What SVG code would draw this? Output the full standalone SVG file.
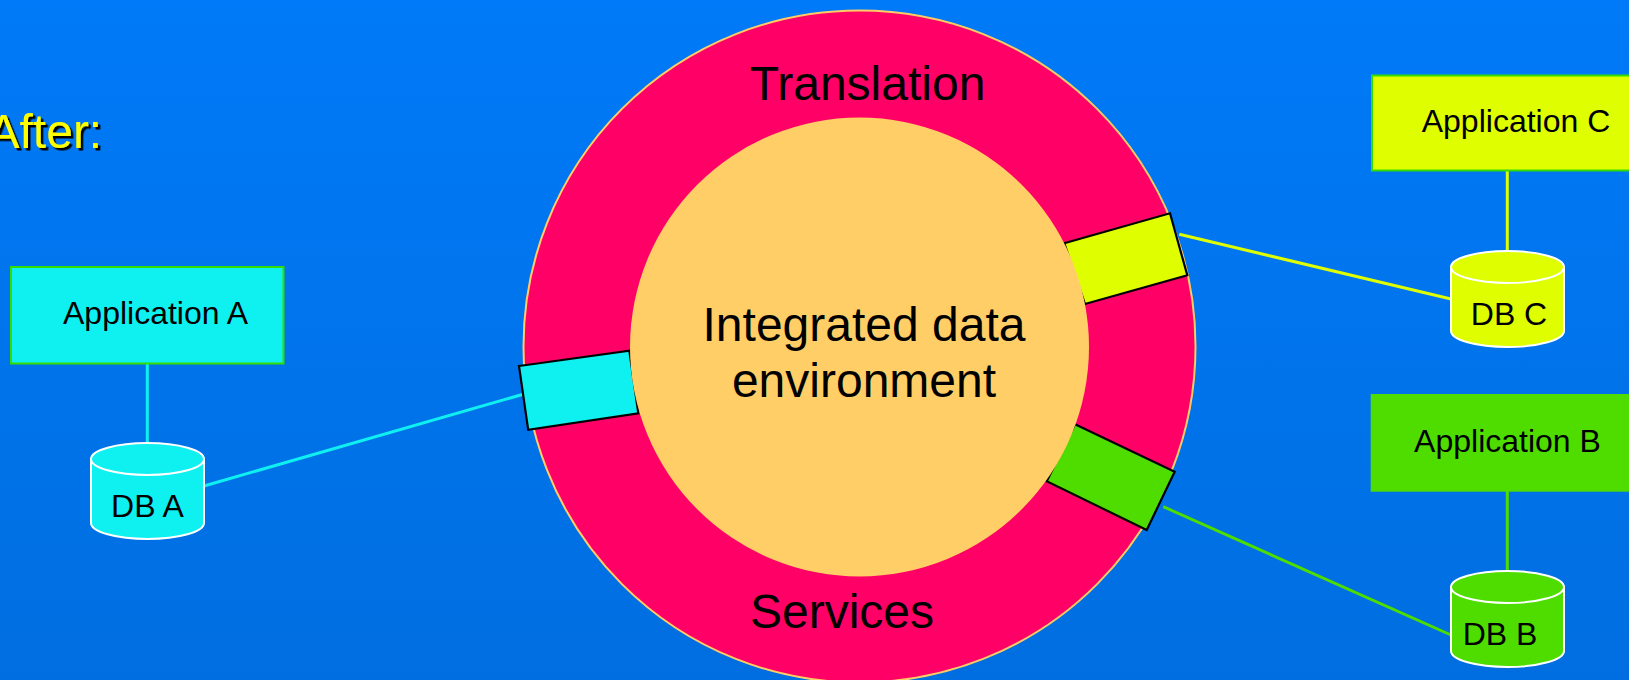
<svg xmlns="http://www.w3.org/2000/svg" width="1629" height="680" viewBox="0 0 1629 680">
<defs>
<linearGradient id="bg" x1="0" y1="0" x2="0" y2="1"><stop offset="0" stop-color="#007af8"/><stop offset="1" stop-color="#006ee0"/></linearGradient>
<filter id="shadow" x="-10%" y="-10%" width="120%" height="120%"><feDropShadow dx="2.5" dy="2.5" stdDeviation="0.3" flood-color="#000"/></filter>
</defs>
<style>
text{font-family:"Liberation Sans",Arial,sans-serif;fill:#000}
.big{font-size:48px}
.small{font-size:32px}
.port{stroke:#000;stroke-width:2.2}
.link{fill:none;stroke-width:3}
.db{stroke:#fff;stroke-width:2}
.cyan{fill:#0ff0f0}
.lime{fill:#dfff00}
.green{fill:#4fdd00}
.scyan{stroke:#0ff0f0}
.slime{stroke:#dfff00}
.sgreen{stroke:#4fdd00}
</style>
<rect width="1629" height="680" fill="url(#bg)"/>
<text id="after" x="-12.5" y="147.5" class="big" style="fill:#ffff00" filter="url(#shadow)">After:</text>

<g id="connectors">
<line class="link scyan" x1="147.3" y1="364" x2="147.3" y2="443"/>
<line class="link scyan" x1="204" y1="486" x2="524" y2="394"/>
<line class="link slime" x1="1507.3" y1="171" x2="1507.3" y2="251"/>
<line class="link slime" x1="1179.3" y1="234.3" x2="1451" y2="299"/>
<line class="link sgreen" x1="1507.3" y1="491" x2="1507.3" y2="571"/>
<line class="link sgreen" x1="1163.3" y1="506.7" x2="1451" y2="635"/>
</g>

<g id="ring"><circle cx="859.5" cy="346.5" r="336" fill="#ff0066" stroke="#ffcc66" stroke-width="2"/></g>
<g id="port-a"><polygon class="port cyan" points="519,366 629.3,350.7 638.3,413.3 528.2,429.8"/></g>
<g id="port-c"><polygon class="port lime" points="1170,213.3 1187.3,275.3 1085,304 1064.3,243.3"/></g>
<g id="port-b"><polygon class="port green" points="1075,424.3 1174.7,471.7 1146.7,530 1046.7,481.3"/></g>
<g id="core"><circle cx="859.5" cy="347" r="229.5" fill="#ffce66"/>
<text x="864" y="341" class="big" text-anchor="middle">Integrated data</text>
<text x="864" y="397" class="big" text-anchor="middle">environment</text></g>
<text id="translation" x="867.5" y="100" class="big" text-anchor="middle">Translation</text>
<text id="services" x="842" y="628" class="big" text-anchor="middle">Services</text>

<g id="app-a"><rect class="cyan" x="11" y="267" width="272.5" height="96.5" stroke="#33dd00" stroke-width="2"/><text x="155.5" y="324" class="small" text-anchor="middle">Application A</text></g>
<g id="app-c"><rect class="lime" x="1372" y="75.5" width="270" height="95" stroke="#33dd00" stroke-width="2"/><text x="1516" y="132" class="small" text-anchor="middle">Application C</text></g>
<g id="app-b"><rect class="green" x="1370.7" y="394" width="270" height="97.7"/><text x="1507.5" y="452" class="small" text-anchor="middle">Application B</text></g>

<g id="db-a"><path class="db cyan" d="M91,459V523A56.5,16 0 0 0 204,523V459Z"/><ellipse class="db cyan" cx="147.5" cy="459" rx="56.5" ry="16"/><text x="147.5" y="517" class="small" text-anchor="middle">DB A</text></g>
<g id="db-c"><path class="db lime" d="M1451,267V331A56.5,16 0 0 0 1564,331V267Z"/><ellipse class="db lime" cx="1507.5" cy="267" rx="56.5" ry="16"/><text x="1509" y="325" class="small" text-anchor="middle">DB C</text></g>
<g id="db-b"><path class="db green" d="M1451,587V651A56.5,16 0 0 0 1564,651V587Z"/><ellipse class="db green" cx="1507.5" cy="587" rx="56.5" ry="16"/><text x="1500" y="645" class="small" text-anchor="middle">DB B</text></g>
</svg>
